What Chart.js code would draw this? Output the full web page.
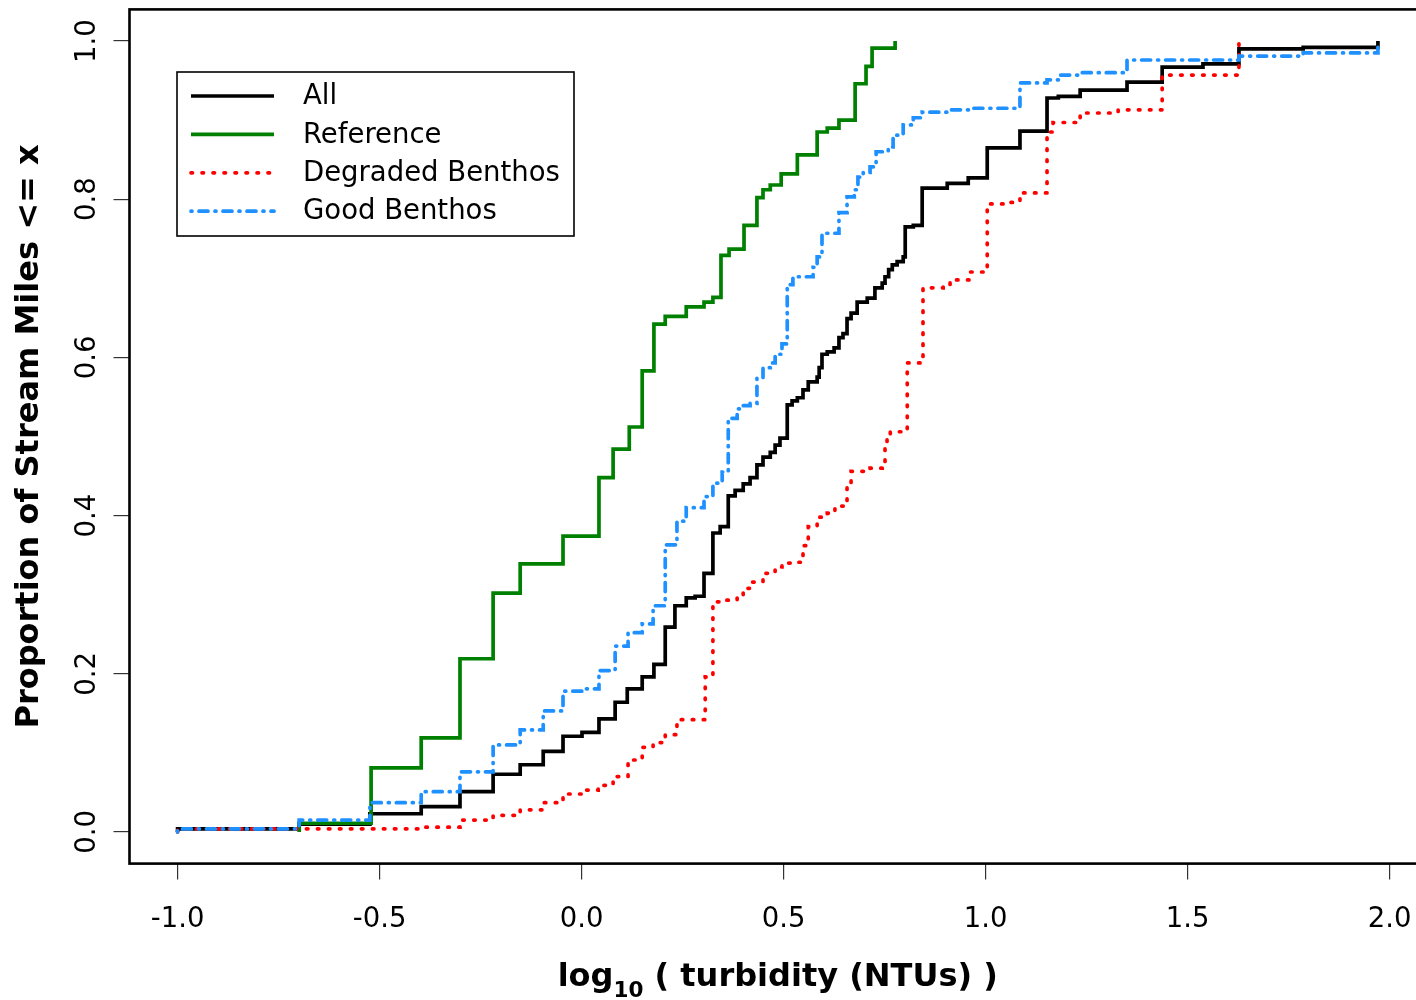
<!DOCTYPE html>
<html><head><meta charset="utf-8">
<script src="https://cdn.jsdelivr.net/npm/chart.js@4/dist/chart.umd.min.js"></script>
<style>
html,body{margin:0;padding:0;background:#fff;overflow:hidden;width:1416px;height:1000px;}
#wrap{position:absolute;left:0;top:0;width:1440px;height:1000px;}
</style></head>
<body><div id="wrap"><canvas id="c"></canvas></div>
<script>
// ---- data ----
const seriesLabels = ['All', 'Reference', 'Degraded Benthos', 'Good Benthos'];

const allX = [-1.0, -1.0, -0.699, -0.524, -0.397, -0.301, -0.219, -0.152, -0.095, -0.046, 0.001, 0.043, 0.083, 0.113, 0.150, 0.179, 0.207, 0.231, 0.259, 0.281, 0.303, 0.325, 0.343, 0.363, 0.380, 0.400, 0.417, 0.434, 0.449, 0.467, 0.479, 0.491, 0.509, 0.521, 0.534, 0.548, 0.561, 0.583, 0.588, 0.595, 0.608, 0.625, 0.637, 0.647, 0.657, 0.667, 0.682, 0.707, 0.726, 0.744, 0.751, 0.760, 0.769, 0.781, 0.796, 0.801, 0.821, 0.843, 0.905, 0.957, 1.004, 1.085, 1.152, 1.180, 1.234, 1.350, 1.437, 1.538, 1.627, 1.786, 1.971];
const allY = [0, 0.004, 0.010, 0.023, 0.032, 0.051, 0.073, 0.085, 0.102, 0.121, 0.126, 0.143, 0.164, 0.181, 0.196, 0.212, 0.259, 0.286, 0.296, 0.298, 0.327, 0.378, 0.386, 0.425, 0.432, 0.440, 0.448, 0.464, 0.474, 0.480, 0.489, 0.498, 0.540, 0.545, 0.549, 0.559, 0.569, 0.575, 0.587, 0.604, 0.607, 0.612, 0.625, 0.630, 0.649, 0.656, 0.670, 0.675, 0.688, 0.694, 0.702, 0.711, 0.717, 0.721, 0.727, 0.765, 0.767, 0.814, 0.820, 0.827, 0.865, 0.886, 0.928, 0.930, 0.938, 0.948, 0.967, 0.971, 0.990, 0.992, 1.0];

const refX = [-0.699, -0.699, -0.521, -0.397, -0.301, -0.219, -0.152, -0.046, 0.043, 0.078, 0.118, 0.150, 0.179, 0.207, 0.259, 0.303, 0.325, 0.345, 0.365, 0.402, 0.434, 0.449, 0.467, 0.494, 0.534, 0.583, 0.608, 0.637, 0.677, 0.704, 0.719, 0.776];
const refY = [0, 0.011, 0.081, 0.119, 0.219, 0.302, 0.339, 0.374, 0.448, 0.484, 0.512, 0.583, 0.642, 0.652, 0.664, 0.670, 0.676, 0.729, 0.737, 0.767, 0.802, 0.812, 0.818, 0.832, 0.856, 0.885, 0.890, 0.900, 0.946, 0.968, 0.991, 1.0];

const degX = [-1.0, -1.0, -0.397, -0.301, -0.219, -0.152, -0.095, -0.046, 0.001, 0.041, 0.078, 0.115, 0.150, 0.177, 0.207, 0.236, 0.306, 0.325, 0.348, 0.385, 0.400, 0.420, 0.449, 0.479, 0.496, 0.521, 0.548, 0.561, 0.583, 0.608, 0.627, 0.657, 0.667, 0.714, 0.744, 0.751, 0.756, 0.764, 0.806, 0.845, 0.895, 0.912, 0.959, 1.004, 1.053, 1.085, 1.152, 1.167, 1.234, 1.328, 1.437, 1.627];
const degY = [0, 0.004, 0.006, 0.015, 0.021, 0.028, 0.037, 0.048, 0.053, 0.059, 0.070, 0.091, 0.107, 0.113, 0.123, 0.142, 0.196, 0.291, 0.293, 0.297, 0.308, 0.316, 0.327, 0.335, 0.340, 0.341, 0.362, 0.386, 0.398, 0.403, 0.412, 0.441, 0.456, 0.460, 0.462, 0.487, 0.499, 0.506, 0.593, 0.688, 0.692, 0.698, 0.708, 0.794, 0.796, 0.808, 0.885, 0.897, 0.909, 0.913, 0.957, 1.0];

const goodX = [-1.0, -1.0, -0.699, -0.524, -0.397, -0.301, -0.219, -0.152, -0.095, -0.046, 0.001, 0.043, 0.083, 0.115, 0.150, 0.177, 0.207, 0.236, 0.259, 0.303, 0.325, 0.348, 0.363, 0.385, 0.400, 0.417, 0.434, 0.449, 0.467, 0.479, 0.496, 0.509, 0.523, 0.573, 0.583, 0.595, 0.637, 0.657, 0.675, 0.684, 0.697, 0.714, 0.729, 0.759, 0.771, 0.796, 0.821, 0.843, 0.905, 0.969, 1.085, 1.152, 1.184, 1.234, 1.350, 1.627, 1.786, 1.971];
const goodY = [0, 0.004, 0.015, 0.037, 0.051, 0.076, 0.110, 0.129, 0.153, 0.178, 0.181, 0.204, 0.235, 0.252, 0.263, 0.286, 0.363, 0.393, 0.410, 0.424, 0.441, 0.455, 0.523, 0.535, 0.539, 0.542, 0.574, 0.587, 0.593, 0.604, 0.617, 0.692, 0.702, 0.714, 0.727, 0.757, 0.783, 0.803, 0.812, 0.828, 0.834, 0.841, 0.860, 0.866, 0.881, 0.894, 0.903, 0.910, 0.913, 0.915, 0.947, 0.951, 0.957, 0.960, 0.976, 0.981, 0.985, 1.0];

const xTickValues = [-1.0, -0.5, 0.0, 0.5, 1.0, 1.5, 2.0];
const xTickLabels = ['-1.0', '-0.5', '0.0', '0.5', '1.0', '1.5', '2.0'];
const yTickValues = [0.0, 0.2, 0.4, 0.6, 0.8, 1.0];
const yTickLabels = ['0.0', '0.2', '0.4', '0.6', '0.8', '1.0'];
const yTitleText = 'Proportion of Stream Miles <= x';
const xTitleMain = 'log', xTitleSub = '10', xTitleRest = ' ( turbidity (NTUs) )';

// ---- styling ----
const FONT = '"DejaVu Sans", "Liberation Sans", sans-serif';
const pts = (xs, ys) => xs.map((x, i) => ({x: x, y: ys[i]}));

const boxPlugin = {
  id: 'box',
  afterDatasetsDraw(chart) {
    const {ctx, chartArea: a} = chart;
    ctx.save();
    ctx.strokeStyle = '#000';
    ctx.lineWidth = 2.6;
    ctx.strokeRect(a.left, a.top, a.right - a.left, a.bottom - a.top);
    ctx.restore();
  }
};

const legendPlugin = {
  id: 'innerLegend',
  afterDraw(chart) {
    const {ctx, chartArea: a} = chart;
    const bx = a.left + 47.5, by = 72, bw = 397, bh = 164;
    ctx.save();
    ctx.fillStyle = '#fff';
    ctx.fillRect(bx, by, bw, bh);
    ctx.strokeStyle = '#000';
    ctx.lineWidth = 1.6;
    ctx.strokeRect(bx, by, bw, bh);
    chart.data.datasets.forEach((ds, i) => {
      const y = by + 24 + i * 38.4;
      ctx.save();
      ctx.strokeStyle = ds.borderColor;
      ctx.lineWidth = ds.borderWidth;
      ctx.lineCap = ds.borderCapStyle || 'round';
      ctx.setLineDash(ds.borderDash || []);
      ctx.beginPath();
      ctx.moveTo(bx + 14, y);
      ctx.lineTo(bx + 97, y);
      ctx.stroke();
      ctx.restore();
      ctx.fillStyle = '#000';
      ctx.font = '27.5px ' + FONT;
      ctx.textBaseline = 'middle';
      ctx.textAlign = 'left';
      ctx.fillText(ds.label, bx + 126, y + 1);
    });
    ctx.restore();
  }
};

const xTitlePlugin = {
  id: 'xTitle',
  afterDraw(chart) {
    const {ctx, chartArea: a} = chart;
    const big = 'bold 32px ' + FONT, small = 'bold 21.5px ' + FONT;
    ctx.save();
    ctx.fillStyle = '#000';
    ctx.textBaseline = 'alphabetic';
    ctx.textAlign = 'left';
    ctx.font = big; const w1 = ctx.measureText(xTitleMain).width;
    const w3 = ctx.measureText(xTitleRest).width;
    ctx.font = small; const w2 = ctx.measureText(xTitleSub).width;
    const total = w1 + w2 + w3;
    let x = (a.left + a.right) / 2 - total / 2;
    const base = 986;
    ctx.font = big; ctx.fillText(xTitleMain, x, base); x += w1;
    ctx.font = small; ctx.fillText(xTitleSub, x, base + 11); x += w2;
    ctx.font = big; ctx.fillText(xTitleRest, x, base);
    ctx.restore();
  }
};

const mkDs = (label, xs, ys, color, dash, order) => ({
  label: label,
  data: pts(xs, ys),
  borderColor: color,
  borderWidth: 3.7,
  borderDash: dash,
  borderCapStyle: dash.length ? 'round' : 'butt',
  borderJoinStyle: 'miter',
  stepped: 'before',
  pointRadius: 0,
  fill: false,
  tension: 0,
  order: order
});

new Chart(document.getElementById('c'), {
  type: 'line',
  data: {
    datasets: [
      mkDs(seriesLabels[0], allX, allY, '#000000', [], 4),
      mkDs(seriesLabels[1], refX, refY, '#008000', [], 3),
      mkDs(seriesLabels[2], degX, degY, '#ff0000', [1.5, 9.5], 2),
      mkDs(seriesLabels[3], goodX, goodY, '#1e90ff', [1, 7, 9, 7], 1)
    ]
  },
  options: {
    responsive: true,
    maintainAspectRatio: false,
    animation: false,
    layout: {padding: {top: 9.4, right: 14, left: 0, bottom: 0}},
    plugins: {legend: {display: false}, tooltip: {enabled: false}},
    scales: {
      x: {
        type: 'linear',
        min: -1.119, max: 2.09,
        afterBuildTicks: s => { s.ticks = xTickValues.map(v => ({value: v})); },
        afterFit: s => { s.height = 136.4; s.paddingLeft = 0; s.paddingRight = 0; },
        border: {display: false},
        grid: {drawOnChartArea: false, drawTicks: true, tickLength: 16, color: '#333', lineWidth: 1.2},
        ticks: {
          callback: (v, i) => xTickLabels[i],
          font: {family: FONT, size: 27.5},
          color: '#000', padding: 24, maxRotation: 0, autoSkip: false
        }
      },
      y: {
        type: 'linear',
        min: -0.04, max: 1.04,
        afterBuildTicks: s => { s.ticks = yTickValues.map(v => ({value: v})); },
        afterFit: s => { s.width = 129.5; s.paddingTop = 0; s.paddingBottom = 0; },
        border: {display: false},
        grid: {drawOnChartArea: false, drawTicks: true, tickLength: 16, color: '#333', lineWidth: 1.2},
        ticks: {
          callback: (v, i) => yTickLabels[i],
          font: {family: FONT, size: 27.5},
          color: '#000', padding: 4, minRotation: 90, maxRotation: 90, crossAlign: 'center', autoSkip: false
        },
        title: {
          display: true, text: yTitleText, color: '#000',
          font: {family: FONT, size: 32, weight: 'bold'},
          padding: {top: 10, bottom: 0}
        }
      }
    }
  },
  plugins: [boxPlugin, legendPlugin, xTitlePlugin]
});
</script>
</body></html>
